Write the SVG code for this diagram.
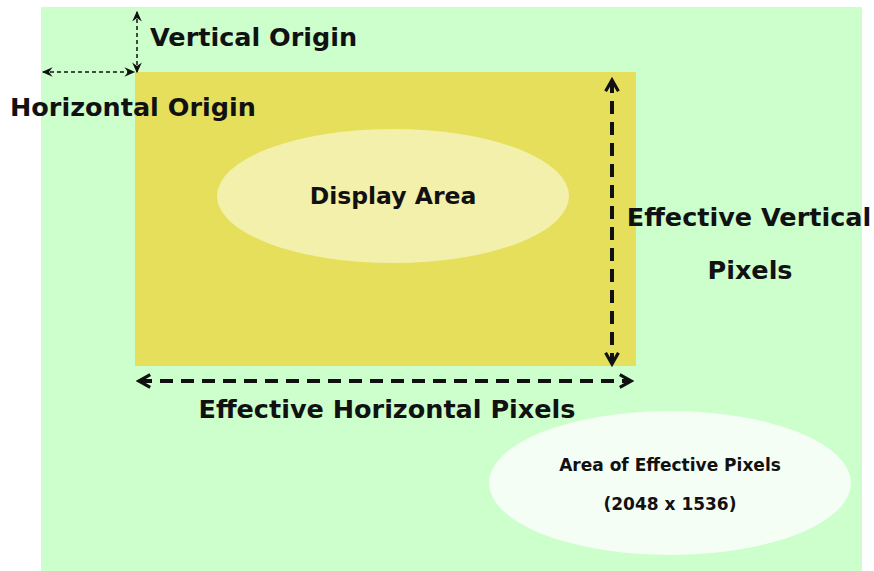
<svg xmlns="http://www.w3.org/2000/svg" width="874" height="571" viewBox="0 0 874 571">
<defs>
<marker id="ah" viewBox="0 0 10 10" refX="8" refY="5" markerWidth="4" markerHeight="4" orient="auto-start-reverse" markerUnits="strokeWidth">
<path d="M1,1 L8,5 L1,9" fill="none" stroke="#111" stroke-width="2"/>
</marker>
<marker id="ahs" viewBox="0 0 10 10" refX="8" refY="5" markerWidth="8" markerHeight="8" orient="auto-start-reverse" markerUnits="strokeWidth">
<path d="M0,1 L9,5 L0,9 L3,5 Z" fill="#111"/>
</marker>
</defs>
<style>
text{font-family:"DejaVu Sans",Verdana,sans-serif;font-weight:bold;fill:#111;}
.big{font-size:25.5px;}
.mid{font-size:23.5px;}
.small{font-size:17px;}
.thick{stroke:#111;stroke-width:4;fill:none;stroke-dasharray:13 8;}
.thin{stroke:#111;stroke-width:1.5;fill:none;stroke-dasharray:4 3;}
</style>
<rect id="bg" x="41" y="7" width="821" height="564" fill="#CCFFCC"/>
<g id="effective-area">
<rect x="135" y="72" width="501" height="294" fill="#E5DF5C"/>
</g>
<g id="display-area">
<ellipse cx="393" cy="196" rx="176" ry="67" fill="#F2F0AA"/>
<text class="mid" x="393" y="204" text-anchor="middle">Display Area</text>
</g>
<g id="pixels-area">
<ellipse cx="670" cy="483" rx="181" ry="72" fill="#F4FEF4"/>
<text class="small" x="670" y="471" text-anchor="middle">Area of Effective Pixels</text>
<text class="small" x="670" y="510" text-anchor="middle">(2048 x 1536)</text>
</g>
<g id="connectors">
<line class="thick" x1="612" y1="80" x2="612" y2="364" marker-start="url(#ah)" marker-end="url(#ah)"/>
<line class="thick" x1="139" y1="381" x2="631" y2="381" marker-start="url(#ah)" marker-end="url(#ah)"/>
<line class="thin" x1="137" y1="12" x2="137" y2="72" marker-start="url(#ahs)" marker-end="url(#ahs)"/>
<line class="thin" x1="43" y1="72" x2="134" y2="72" marker-start="url(#ahs)" marker-end="url(#ahs)"/>
</g>
<g id="labels">
<text class="big" x="150" y="46">Vertical Origin</text>
<text class="big" x="10" y="116">Horizontal Origin</text>
<text class="big" x="749" y="226" text-anchor="middle">Effective Vertical</text>
<text class="big" x="750" y="279" text-anchor="middle">Pixels</text>
<text class="big" x="387" y="418" text-anchor="middle">Effective Horizontal Pixels</text>
</g>
</svg>
